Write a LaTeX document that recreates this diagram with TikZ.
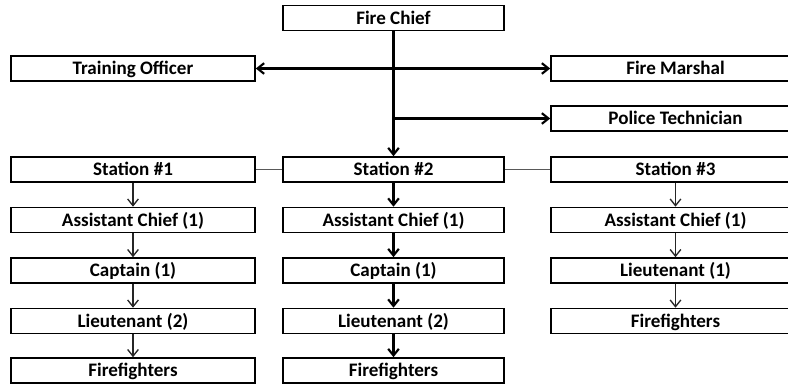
\documentclass[tikz,border=0pt]{standalone}
\usepackage{fontspec}
\setmainfont{Carlito}
\usetikzlibrary{arrows.meta}

\begin{document}
\begin{tikzpicture}[x=0.75pt, y=-0.75pt,
  box/.style={draw, line width=1.2pt, inner sep=0pt, minimum height=18.75pt,
    text height=9.2pt, text depth=0pt,
    font=\fontsize{14.3}{15}\selectfont\bfseries},
  lbox/.style={box, minimum width=183pt},
  mbox/.style={box, minimum width=165.75pt},
  rbox/.style={box, minimum width=186.75pt},
  arr/.style={-{Straight Barb[length=5pt, width=8pt]}, line width=1.6pt},
  tarr/.style={-{Straight Barb[length=5pt, width=8pt]}, line width=1pt, black!85},
  link/.style={line width=0.8pt, black!65}]
\useasboundingbox (0,0) rectangle (788,385);
% top level
\node[mbox] (chief) at (393.5,18) {Fire Chief};
\node[lbox] (train) at (133,68.5) {Training Officer};
\node[rbox] (marsh) at (675.5,68.5) {Fire Marshal};
\node[rbox] (police) at (675.5,118.5) {Police Technician};
% stations
\node[lbox] (s1) at (133,169.5) {Station \#1};
\node[mbox] (s2) at (393.5,169.5) {Station \#2};
\node[rbox] (s3) at (675.5,169.5) {Station \#3};
% station 1
\node[lbox] (a1) at (133,220) {Assistant Chief (1)};
\node[lbox] (c1) at (133,270.5) {Captain (1)};
\node[lbox] (l1) at (133,321) {Lieutenant (2)};
\node[lbox] (f1) at (133,370.5) {Firefighters};
% station 2
\node[mbox] (a2) at (393.5,220) {Assistant Chief (1)};
\node[mbox] (c2) at (393.5,270.5) {Captain (1)};
\node[mbox] (l2) at (393.5,321) {Lieutenant (2)};
\node[mbox] (f2) at (393.5,370.5) {Firefighters};
% station 3
\node[rbox] (a3) at (675.5,220) {Assistant Chief (1)};
\node[rbox] (l3) at (675.5,270.5) {Lieutenant (1)};
\node[rbox] (f3) at (675.5,321) {Firefighters};
% chief links
\draw[arr] (chief) -- (s2);
\draw[arr] (chief.south |- train.east) -- (train.east);
\draw[arr] (chief.south |- marsh.west) -- (marsh.west);
\draw[arr] (chief.south |- police.west) -- (police.west);
\draw[link] (s1) -- (s2);
\draw[link] (s2) -- (s3);
% chains
\draw[tarr] (s1) -- (a1);
\draw[tarr] (a1) -- (c1);
\draw[tarr] (c1) -- (l1);
\draw[tarr] (l1) -- (f1);
\draw[arr] (s2) -- (a2);
\draw[arr] (a2) -- (c2);
\draw[arr] (c2) -- (l2);
\draw[arr] (l2) -- (f2);
\draw[tarr] (s3) -- (a3);
\draw[tarr] (a3) -- (l3);
\draw[tarr] (l3) -- (f3);
\end{tikzpicture}
\end{document}
